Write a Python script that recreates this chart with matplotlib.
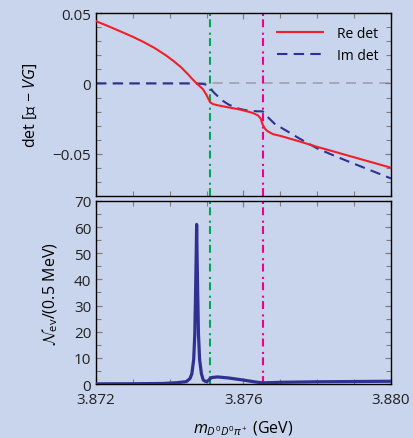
import numpy as np
import matplotlib
matplotlib.use('Agg')
import matplotlib.pyplot as plt
from matplotlib.ticker import MultipleLocator

# thresholds (GeV)
m_thr_1 = 3.87509   # D0 D*+
m_thr_2 = 3.87652   # D+ D*0

# Re det [1 - VG]
re_x = [3.8720, 3.8722, 3.8725, 3.8728, 3.8730, 3.8733, 3.8736, 3.8739,
        3.8741, 3.8743, 3.8745, 3.8746, 3.87473,
        3.8749, 3.8750, 3.87505, 3.8751, 3.87518, 3.8753, 3.8756, 3.8759,
        3.8762, 3.8763, 3.8764, 3.87647, 3.87652, 3.87658, 3.87665, 3.8768,
        3.8770, 3.8775, 3.8780, 3.8785, 3.8790, 3.8795, 3.8800]
re_y = [0.0442, 0.0421, 0.0388, 0.0354, 0.0331, 0.0293, 0.0250, 0.0199,
        0.0160, 0.0117, 0.0064, 0.0035, 0.0,
        -0.0040, -0.0083, -0.0110, -0.0135, -0.0147, -0.0155, -0.0170, -0.0185,
        -0.0205, -0.0215, -0.0228, -0.0250, -0.0290, -0.0320, -0.0338, -0.0360,
        -0.0372, -0.0410, -0.0450, -0.0487, -0.0524, -0.0561, -0.0598]

# Im det [1 - VG]
im_x = [3.8720, 3.8745, 3.8749, 3.8750, 3.87509, 3.87515, 3.8752, 3.8753,
        3.87545, 3.8756, 3.87582, 3.8760, 3.87618, 3.8764, 3.87652, 3.87658,
        3.87665, 3.8769, 3.8770, 3.8775, 3.8780, 3.8785, 3.8790, 3.8795, 3.8800]
im_y = [0.0, 0.0, -0.0003, -0.0010, -0.0025, -0.0050, -0.0065, -0.0090,
        -0.0125, -0.0150, -0.0175, -0.0187, -0.0195, -0.0198, -0.0198, -0.0210,
        -0.0236, -0.0300, -0.0310, -0.0388, -0.0461, -0.0517, -0.0570, -0.0622, -0.0674]

# event distribution per 0.5 MeV
ev_x = [3.8720, 3.8730, 3.8738, 3.8742, 3.87445, 3.87455, 3.8746, 3.87465,
        3.87468, 3.8747, 3.87472, 3.87473, 3.87474, 3.87476, 3.87478, 3.87481,
        3.87486, 3.87491, 3.87498, 3.87505, 3.87509, 3.87515, 3.8753, 3.8756,
        3.8760, 3.87636, 3.87652, 3.8768, 3.8770, 3.8780, 3.8790, 3.8800]
ev_y = [0.05, 0.1, 0.2, 0.5, 0.9, 2.1, 3.9, 9.4,
        19.0, 34.0, 51.0, 61.0, 51.0, 34.0, 19.0, 9.4,
        3.9, 1.5, 0.9, 1.3, 2.0, 2.5, 2.7, 2.3,
        1.5, 0.7, 0.45, 0.55, 0.65, 0.85, 0.95, 1.05]

bg = '#c9d5ec'
blue = '#2e3192'
red = '#f0202a'
green = '#00a651'
magenta = '#ec008c'

plt.rcParams['font.family'] = ['Open Sans', 'STIXGeneral', 'DejaVu Sans']
plt.rcParams['mathtext.fontset'] = 'custom'
plt.rcParams['mathtext.rm'] = 'Open Sans'
plt.rcParams['mathtext.it'] = 'Open Sans:italic'
plt.rcParams['mathtext.bf'] = 'Open Sans:bold'
plt.rcParams['mathtext.cal'] = 'cmsy10'
plt.rcParams['mathtext.fallback'] = 'stixsans'
plt.rcParams['axes.unicode_minus'] = True

fig = plt.figure(figsize=(4.14, 4.39), dpi=100, facecolor=bg)
ax1 = fig.add_axes([0.232, 0.551, 0.712, 0.417], facecolor=bg)
ax2 = fig.add_axes([0.232, 0.123, 0.712, 0.417], facecolor=bg)

vstyle = (0, (3.8, 1.6, 1.0, 2.6))
for ax in (ax1, ax2):
    ax.axvline(m_thr_1, color=green, lw=1.5, ls=vstyle, zorder=1)
    ax.axvline(m_thr_2, color=magenta, lw=1.5, ls=vstyle, zorder=1)

ax1.axhline(0, color='#a0a0a8', lw=1.2, ls=(0, (6, 4)), zorder=0)
ax1.plot(re_x, re_y, color=red, lw=1.5, label='Re det', zorder=3)
ax1.plot(im_x, im_y, color=blue, lw=1.5, ls=(0, (5, 3)), label='Im det', zorder=2)
ax1.set_ylim(-0.08, 0.05)
ax1.yaxis.set_minor_locator(MultipleLocator(0.01))
ax1.set_yticks([0.05, 0, -0.05])
ax1.set_yticklabels(['0.05', '0', '\u22120.05'])
ax1.set_ylabel('det [\U0001D7D9 \u2212 $VG$]', fontsize=11.5, labelpad=10)
ax1.legend(loc='upper right', frameon=False, fontsize=10, handlelength=3.3,
           handletextpad=1.0, labelspacing=0.55, borderaxespad=0.5)

ax2.plot(ev_x, ev_y, color=blue, lw=2.3, zorder=3)
ax2.set_ylim(0, 70)
ax2.yaxis.set_major_locator(MultipleLocator(10))
ax2.yaxis.set_minor_locator(MultipleLocator(5))
ax2.set_ylabel(r'$\mathcal{N}_\mathrm{ev}/(0.5\ \mathrm{MeV})$', fontsize=11.5, labelpad=10)
ax2.set_xlabel(r'$m_{D^0D^0\pi^+}$ (GeV)', fontsize=11.5, labelpad=8)

for ax in (ax1, ax2):
    ax.set_xlim(3.872, 3.880)
    ax.xaxis.set_minor_locator(MultipleLocator(0.001))
    ax.tick_params(which='both', direction='in', top=True, right=True,
                   color='#7f7f7f', labelsize=11, labelcolor='#222222')
    ax.tick_params(which='major', length=4.5, width=0.9)
    ax.tick_params(which='minor', length=3.5, width=0.8)
    for s in ax.spines.values():
        s.set_linewidth(1.0)
ax1.set_xticks([3.872, 3.876, 3.880])
ax1.tick_params(labelbottom=False)
ax2.set_xticks([3.872, 3.876, 3.880])
ax2.set_xticklabels(['3.872', '3.876', '3.880'])
ax2.tick_params(axis='x', pad=6)

fig.savefig('out.png', dpi=100, facecolor=bg)
